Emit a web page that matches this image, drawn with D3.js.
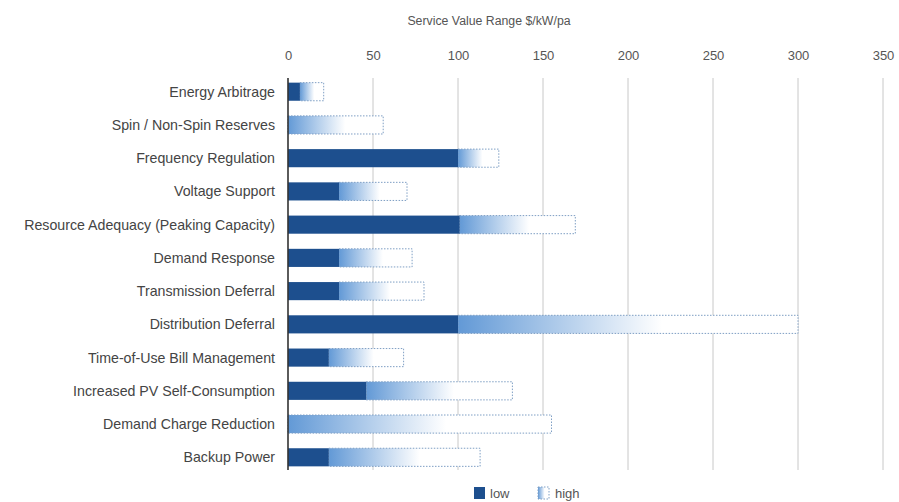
<!DOCTYPE html>
<html>
<head>
<meta charset="utf-8">
<script src="https://cdn.jsdelivr.net/npm/d3@7"></script>
<style>
  html, body { margin: 0; padding: 0; background: #fff; }
  svg { display: block; }
  text { font-family: "Liberation Sans", Arial, sans-serif; }
</style>
</head>
<body>
<svg id="chart" width="899" height="502"></svg>
<script>
// Storage service value ranges, $/kW per annum
const services = [
  "Energy Arbitrage",
  "Spin / Non-Spin Reserves",
  "Frequency Regulation",
  "Voltage Support",
  "Resource Adequacy (Peaking Capacity)",
  "Demand Response",
  "Transmission Deferral",
  "Distribution Deferral",
  "Time-of-Use Bill Management",
  "Increased PV Self-Consumption",
  "Demand Charge Reduction",
  "Backup Power"
];
const lowValues  = [7, 0, 100, 30, 101, 30, 30, 100, 24, 46, 0, 24];
const highValues = [21, 56, 124, 70, 169, 73, 80, 300, 68, 132, 155, 113];
const xTicks = [0, 50, 100, 150, 200, 250, 300, 350];

const svg = d3.select("#chart");
const margin = { left: 288, top: 75 };

const x = d3.scaleLinear().domain([0, 350]).range([margin.left, 883]);
const y = d3.scaleBand().domain(services).range([margin.top, 474]).paddingInner(0.455).paddingOuter(0.23);

// gradient for the high portion: mid blue fading to white
const defs = svg.append("defs");
const grad = defs.append("linearGradient").attr("id", "highGrad")
  .attr("x1", "0%").attr("x2", "100%").attr("y1", "0%").attr("y2", "0%");
grad.append("stop").attr("offset", "0%").attr("stop-color", "#6299d6");
grad.append("stop").attr("offset", "60%").attr("stop-color", "#ffffff");
grad.append("stop").attr("offset", "100%").attr("stop-color", "#ffffff");

// title
svg.append("text")
  .attr("x", 489).attr("y", 25)
  .attr("text-anchor", "middle")
  .attr("font-size", 12.3).attr("fill", "#555")
  .text("Service Value Range $/kW/pa");

// top axis tick labels
const axis = d3.axisTop(x).tickValues(xTicks).tickSize(0).tickPadding(0);
const gAxis = svg.append("g").attr("transform", "translate(0,60)").call(axis);
gAxis.select(".domain").remove();
gAxis.selectAll("text").attr("font-size", 13).attr("fill", "#555")
  .attr("font-family", "'Liberation Sans', Arial, sans-serif");

// vertical gridlines
svg.append("g").selectAll("line")
  .data(xTicks.filter(d => d > 0))
  .join("line")
  .attr("x1", d => x(d)).attr("x2", d => x(d))
  .attr("y1", 78).attr("y2", 470)
  .attr("stroke", "#c8c8c8").attr("stroke-width", 1);

const rows = svg.append("g").selectAll("g")
  .data(services.map((s, i) => ({ name: s, low: lowValues[i], high: highValues[i] })))
  .join("g");

// high segment (gradient with dotted outline)
rows.append("rect")
  .attr("x", d => x(d.low))
  .attr("y", d => y(d.name))
  .attr("width", d => x(d.high) - x(d.low))
  .attr("height", y.bandwidth())
  .attr("fill", "url(#highGrad)")
  .attr("stroke", "#7f9fc4")
  .attr("stroke-width", 1)
  .attr("stroke-dasharray", "1.5,1.5");

// low segment
rows.append("rect")
  .attr("x", x(0))
  .attr("y", d => y(d.name))
  .attr("width", d => x(d.low) - x(0))
  .attr("height", y.bandwidth())
  .attr("fill", "#1d4f8e");

// category labels
rows.append("text")
  .attr("x", 275)
  .attr("y", d => y(d.name) + y.bandwidth() / 2)
  .attr("dy", "0.35em")
  .attr("text-anchor", "end")
  .attr("font-size", 14.2).attr("fill", "#444")
  .text(d => d.name);

// zero baseline
svg.append("line")
  .attr("x1", x(0)).attr("x2", x(0))
  .attr("y1", 78).attr("y2", 470)
  .attr("stroke", "#333").attr("stroke-width", 1.6);

// legend
const legend = svg.append("g").attr("transform", "translate(474,487)");
legend.append("rect").attr("x", 0).attr("y", 0).attr("width", 11).attr("height", 12).attr("fill", "#1d4f8e");
legend.append("text").attr("x", 16).attr("y", 11).attr("font-size", 13).attr("fill", "#555").text("low");
legend.append("rect").attr("x", 64).attr("y", 0).attr("width", 11).attr("height", 12)
  .attr("fill", "url(#highGrad)").attr("stroke", "#7f9fc4").attr("stroke-dasharray", "1.5,1.5");
legend.append("text").attr("x", 81).attr("y", 11).attr("font-size", 13).attr("fill", "#555").text("high");
</script>
</body>
</html>
